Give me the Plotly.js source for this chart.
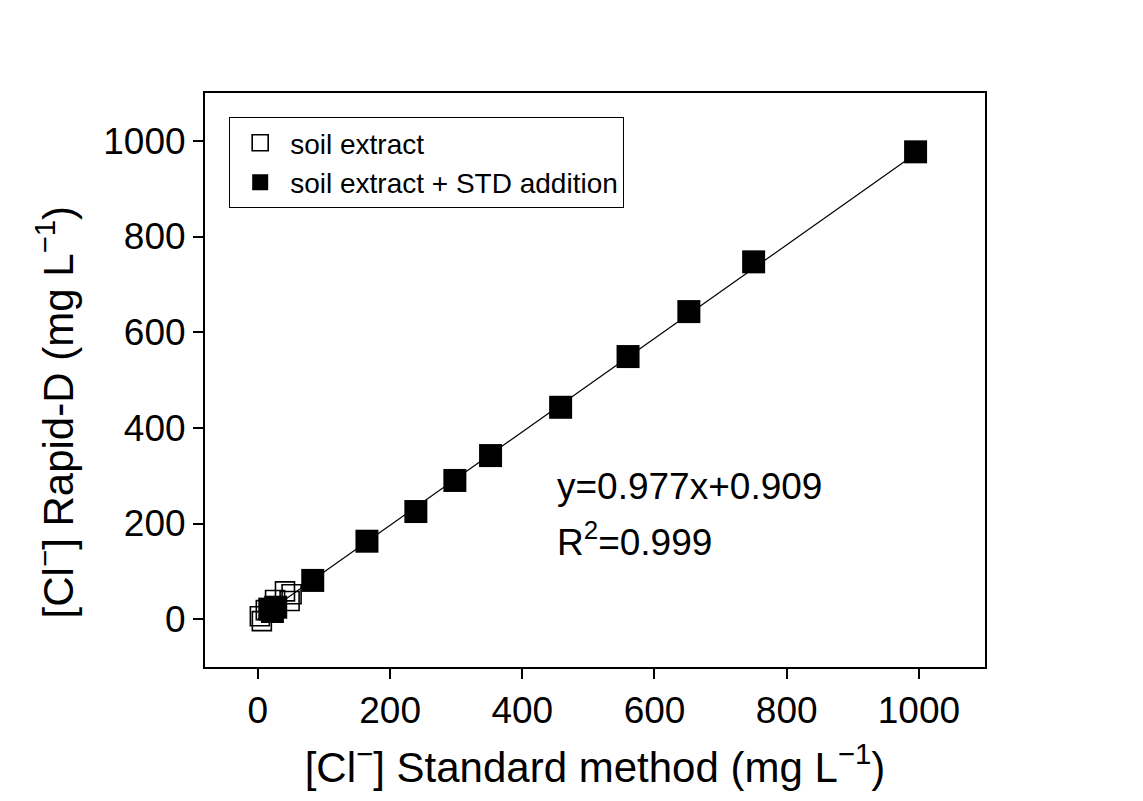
<!DOCTYPE html>
<html>
<head>
<meta charset="utf-8">
<script src="https://cdn.plot.ly/plotly-3.0.1.min.js"></script>
<style>html,body{margin:0;padding:0;background:#fff;}#chart{width:1143px;height:801px;}</style>
</head>
<body>
<div id="chart"></div>
<script>
// soil extract (open squares)
const soilX = [3, 6, 12, 26, 41, 51, 48];
const soilY = [6, -4, 19, 40, 58, 52, 38];
// soil extract + STD addition (filled squares)
const stdX = [18, 27, 22, 83, 165, 239, 298, 352, 458, 560, 652, 750, 995];
const stdY = [21, 25, 16, 81, 163, 225, 290, 342, 443, 549, 643, 747, 977];
// fitted line endpoints (y = 0.977x + 0.909)
const fitX = [0, 995];
const fitY = [0.909, 973.0];
const xTicks = [0, 200, 400, 600, 800, 1000];
const yTicks = [0, 200, 400, 600, 800, 1000];

const font = 'Liberation Sans, Arial, sans-serif';
const traces = [
  {x: fitX, y: fitY, mode: 'lines', line: {color: '#000', width: 1.2}, showlegend: false, hoverinfo: 'skip'},
  {x: soilX, y: soilY, mode: 'markers', name: 'soil extract',
   marker: {symbol: 'square-open', size: 19, color: '#000', line: {width: 1.6, color: '#000'}}},
  {x: stdX, y: stdY, mode: 'markers', name: 'soil extract + STD addition',
   marker: {symbol: 'square', size: 23, color: '#000', line: {width: 0}}}
];
const axisCommon = {
  showline: true, mirror: true, linecolor: '#000', linewidth: 2,
  ticks: 'outside', ticklen: 10, tickwidth: 2, tickcolor: '#000',
  showgrid: false, zeroline: false,
  tickfont: {family: font, size: 37, color: '#000'}
};
const layout = {
  width: 1143, height: 801,
  paper_bgcolor: '#fff', plot_bgcolor: '#fff',
  margin: {l: 205, r: 158, t: 93, b: 134},
  xaxis: Object.assign({}, axisCommon, {
    range: [-80, 1100], tickvals: xTicks, ticktext: xTicks.map(String),
    title: {text: '[Cl<sup>−</sup>] Standard method (mg L<sup>−1</sup>)', font: {family: font, size: 42, color: '#000'}, standoff: 22}
  }),
  yaxis: Object.assign({}, axisCommon, {
    range: [-100, 1100], tickvals: yTicks, ticktext: yTicks.map(String)
  }),
  legend: {
    x: 0.031, y: 0.958, xanchor: 'left', yanchor: 'top',
    bordercolor: '#000', borderwidth: 1, bgcolor: '#fff',
    font: {family: font, size: 28, color: '#000'},
    itemsizing: 'trace', itemwidth: 50, tracegroupgap: 0
  },
  annotations: [
    {x: -0.192, y: 0.444, xref: 'paper', yref: 'paper', xanchor: 'center', yanchor: 'middle', showarrow: false,
     textangle: -90, text: '[Cl<sup>−</sup>] Rapid-D (mg L<sup>−1</sup>)', font: {family: font, size: 42, color: '#000'}},
    {x: 449, y: 278, xref: 'x', yref: 'y', xanchor: 'left', yanchor: 'middle', showarrow: false,
     text: 'y=0.977x+0.909', font: {family: font, size: 37, color: '#000'}},
    {x: 449, y: 167, xref: 'x', yref: 'y', xanchor: 'left', yanchor: 'middle', showarrow: false,
     text: 'R<sup>2</sup>=0.999', font: {family: font, size: 37, color: '#000'}}
  ]
};
Plotly.newPlot('chart', traces, layout, {displayModeBar: false, staticPlot: true});
</script>
</body>
</html>
